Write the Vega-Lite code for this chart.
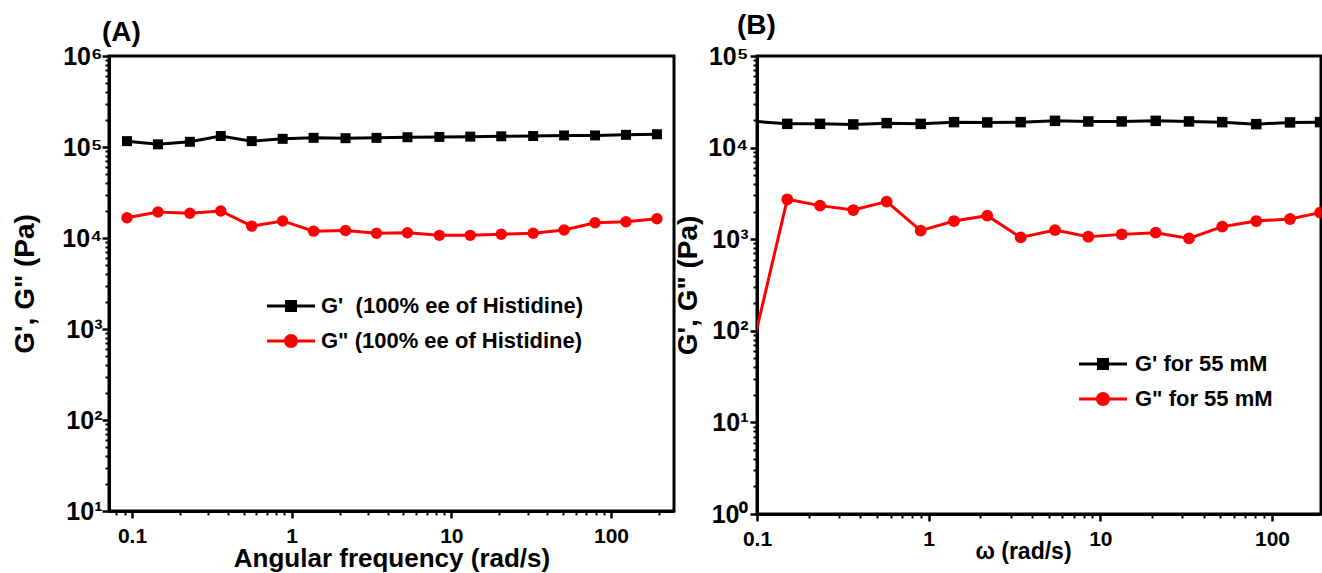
{
  "$schema": "https://vega.github.io/schema/vega-lite/v6.json",
  "background": "white",
  "padding": {"left": 9, "top": 10, "right": 0, "bottom": 0},
  "spacing": 83,
  "bounds": "flush",
  "resolve": {
    "scale": {"color": "independent"},
    "legend": {"color": "independent"}
  },
  "config": {
    "font": "Liberation Sans",
    "view": {"stroke": "black", "strokeWidth": 3},
    "axis": {
      "grid": false,
      "domainColor": "black",
      "domainWidth": 3,
      "tickColor": "black",
      "tickWidth": 2.5,
      "labelColor": "black",
      "labelFont": "Liberation Sans",
      "labelFontWeight": "bold",
      "titleFont": "Liberation Sans",
      "titleFontWeight": "bold",
      "titleColor": "black",
      "labelFlush": false,
      "labelOverlap": false,
      "labelBound": false
    },
    "legend": {
      "labelFont": "Liberation Sans",
      "labelFontSize": 22,
      "labelFontWeight": "bold",
      "labelColor": "black",
      "labelLimit": 500,
      "padding": 0,
      "rowPadding": -9
    }
  },
  "hconcat": [
    {
      "width": 565,
      "height": 455,
      "title": {"text": "(A)", "anchor": "start", "frame": "group", "dx": -7, "offset": -25, "baseline": "alphabetic", "fontSize": 28, "fontWeight": "bold", "font": "Liberation Sans", "color": "black"},
      "data": {"values": [
        {"w": 0.0931, "v": 116000, "s": "G' \u00a0(100% ee of Histidine)"},
        {"w": 0.1454, "v": 107000, "s": "G' \u00a0(100% ee of Histidine)"},
        {"w": 0.2305, "v": 114000, "s": "G' \u00a0(100% ee of Histidine)"},
        {"w": 0.3599, "v": 132000, "s": "G' \u00a0(100% ee of Histidine)"},
        {"w": 0.5623, "v": 116000, "s": "G' \u00a0(100% ee of Histidine)"},
        {"w": 0.8784, "v": 123000, "s": "G' \u00a0(100% ee of Histidine)"},
        {"w": 1.372, "v": 126000, "s": "G' \u00a0(100% ee of Histidine)"},
        {"w": 2.175, "v": 125000, "s": "G' \u00a0(100% ee of Histidine)"},
        {"w": 3.398, "v": 126000, "s": "G' \u00a0(100% ee of Histidine)"},
        {"w": 5.309, "v": 128000, "s": "G' \u00a0(100% ee of Histidine)"},
        {"w": 8.414, "v": 129000, "s": "G' \u00a0(100% ee of Histidine)"},
        {"w": 13.14, "v": 130000, "s": "G' \u00a0(100% ee of Histidine)"},
        {"w": 20.54, "v": 131000, "s": "G' \u00a0(100% ee of Histidine)"},
        {"w": 32.54, "v": 132000, "s": "G' \u00a0(100% ee of Histidine)"},
        {"w": 50.84, "v": 134000, "s": "G' \u00a0(100% ee of Histidine)"},
        {"w": 79.43, "v": 134000, "s": "G' \u00a0(100% ee of Histidine)"},
        {"w": 124.1, "v": 136000, "s": "G' \u00a0(100% ee of Histidine)"},
        {"w": 193.9, "v": 138000, "s": "G' \u00a0(100% ee of Histidine)"},
        {"w": 0.0931, "v": 16700, "s": "G\" (100% ee of Histidine)"},
        {"w": 0.1454, "v": 19300, "s": "G\" (100% ee of Histidine)"},
        {"w": 0.2305, "v": 18700, "s": "G\" (100% ee of Histidine)"},
        {"w": 0.3599, "v": 19800, "s": "G\" (100% ee of Histidine)"},
        {"w": 0.5623, "v": 13500, "s": "G\" (100% ee of Histidine)"},
        {"w": 0.8784, "v": 15400, "s": "G\" (100% ee of Histidine)"},
        {"w": 1.372, "v": 11900, "s": "G\" (100% ee of Histidine)"},
        {"w": 2.175, "v": 12100, "s": "G\" (100% ee of Histidine)"},
        {"w": 3.398, "v": 11270, "s": "G\" (100% ee of Histidine)"},
        {"w": 5.309, "v": 11430, "s": "G\" (100% ee of Histidine)"},
        {"w": 8.414, "v": 10700, "s": "G\" (100% ee of Histidine)"},
        {"w": 13.14, "v": 10700, "s": "G\" (100% ee of Histidine)"},
        {"w": 20.54, "v": 11000, "s": "G\" (100% ee of Histidine)"},
        {"w": 32.54, "v": 11270, "s": "G\" (100% ee of Histidine)"},
        {"w": 50.84, "v": 12240, "s": "G\" (100% ee of Histidine)"},
        {"w": 79.43, "v": 14700, "s": "G\" (100% ee of Histidine)"},
        {"w": 124.1, "v": 15100, "s": "G\" (100% ee of Histidine)"},
        {"w": 193.9, "v": 16300, "s": "G\" (100% ee of Histidine)"}
      ]},
      "layer": [
        {
          "mark": {"type": "line", "strokeWidth": 3, "clip": true},
          "encoding": {
            "x": {"field": "w", "type": "quantitative",
              "scale": {"type": "log", "domain": [0.0718, 248], "nice": false},
              "axis": {"orient": "bottom", "values": [0.1, 1, 10, 100], "format": "~g", "tickSize": 7, "labelPadding": 7, "labelFontSize": 21,
                "title": "Angular frequency (rad/s)", "titleFontSize": 26, "titleY": 55, "titleBaseline": "alphabetic"}},
            "y": {"field": "v", "type": "quantitative",
              "scale": {"type": "log", "domain": [10, 1000000], "nice": false},
              "axis": {"orient": "left", "values": [10, 100, 1000, 10000, 100000, 1000000], "tickSize": 7, "labelPadding": 0, "labelFontSize": 25,
                "labelExpr": "'10' + ['⁰','¹','²','³','⁴','⁵','⁶'][round(log(datum.value)/LN10)]",
                "title": "G', G\" (Pa)", "titleFontSize": 28, "titleX": -76, "titleBaseline": "alphabetic"}},
            "color": {"field": "s", "type": "nominal",
              "scale": {"domain": ["G' \u00a0(100% ee of Histidine)", "G\" (100% ee of Histidine)"], "range": ["black", "red"]},
              "legend": {"orient": "none", "legendX": 158, "legendY": 226, "title": null,
                "padding": 0, "rowPadding": -9, "symbolOffset": 0, "labelOffset": 6,
                "encode": {"symbols": {"update": {
                  "shape": {"signal": "datum.index === 0 ? 'M-1,-0.0625H1V0.0625H-1ZM-0.25,-0.25H0.25V0.25H-0.25Z' : 'M-1,-0.0625H1V0.0625H-1ZM0.29,0A0.29,0.29,0,1,1,-0.29,0A0.29,0.29,0,1,1,0.29,0Z'"},
                  "fill": {"signal": "datum.index === 0 ? 'black' : 'red'"},
                  "stroke": {"value": "transparent"},
                  "strokeWidth": {"value": 0},
                  "size": {"value": 2304},
                  "opacity": {"value": 1}
                }}}}}
          }
        },
        {
          "transform": [{"filter": {"field": "s", "equal": "G' \u00a0(100% ee of Histidine)"}}],
          "mark": {"type": "point", "shape": "square", "size": 100, "filled": true, "color": "black", "opacity": 1, "clip": true},
          "encoding": {
            "x": {"field": "w", "type": "quantitative",
              "axis": {"orient": "bottom", "domain": false, "labels": false, "title": null, "tickSize": 4, "tickWidth": 2,
                "values": [0.08, 0.09, 0.2, 0.3, 0.4, 0.5, 0.6, 0.7, 0.8, 0.9, 2, 3, 4, 5, 6, 7, 8, 9, 20, 30, 40, 50, 60, 70, 80, 90, 200]}},
            "y": {"field": "v", "type": "quantitative",
              "axis": {"orient": "left", "domain": false, "labels": false, "title": null, "tickSize": 4, "tickWidth": 2,
                "values": [20, 30, 40, 50, 60, 70, 80, 90, 200, 300, 400, 500, 600, 700, 800, 900, 2000, 3000, 4000, 5000, 6000, 7000, 8000, 9000, 20000, 30000, 40000, 50000, 60000, 70000, 80000, 90000, 200000, 300000, 400000, 500000, 600000, 700000, 800000, 900000]}}
          }
        },
        {
          "transform": [{"filter": {"field": "s", "equal": "G\" (100% ee of Histidine)"}}],
          "mark": {"type": "point", "shape": "circle", "size": 130, "filled": true, "color": "red", "opacity": 1, "clip": true},
          "encoding": {
            "x": {"field": "w", "type": "quantitative", "axis": null},
            "y": {"field": "v", "type": "quantitative", "axis": null}
          }
        }
      ],
      "resolve": {"axis": {"x": "independent", "y": "independent"}}
    },
    {
      "width": 564,
      "height": 458,
      "title": {"text": "(B)", "anchor": "start", "frame": "group", "dx": -20, "offset": -18, "baseline": "alphabetic", "fontSize": 28, "fontWeight": "bold", "font": "Liberation Sans", "color": "black"},
      "data": {"values": [
        {"w": 0.092, "v": 19500, "s": "G' for 55 mM"},
        {"w": 0.1501, "v": 18160, "s": "G' for 55 mM"},
        {"w": 0.2328, "v": 18160, "s": "G' for 55 mM"},
        {"w": 0.3639, "v": 17900, "s": "G' for 55 mM"},
        {"w": 0.5694, "v": 18500, "s": "G' for 55 mM"},
        {"w": 0.8988, "v": 18160, "s": "G' for 55 mM"},
        {"w": 1.405, "v": 18970, "s": "G' for 55 mM"},
        {"w": 2.195, "v": 18830, "s": "G' for 55 mM"},
        {"w": 3.436, "v": 18970, "s": "G' for 55 mM"},
        {"w": 5.445, "v": 19590, "s": "G' for 55 mM"},
        {"w": 8.51, "v": 19300, "s": "G' for 55 mM"},
        {"w": 13.32, "v": 19300, "s": "G' for 55 mM"},
        {"w": 21.02, "v": 19590, "s": "G' for 55 mM"},
        {"w": 32.85, "v": 19300, "s": "G' for 55 mM"},
        {"w": 51.3, "v": 18970, "s": "G' for 55 mM"},
        {"w": 81.0, "v": 18030, "s": "G' for 55 mM"},
        {"w": 127.4, "v": 18830, "s": "G' for 55 mM"},
        {"w": 190.6, "v": 18970, "s": "G' for 55 mM"},
        {"w": 0.092, "v": 55, "s": "G\" for 55 mM"},
        {"w": 0.1501, "v": 2725, "s": "G\" for 55 mM"},
        {"w": 0.2328, "v": 2326, "s": "G\" for 55 mM"},
        {"w": 0.3639, "v": 2081, "s": "G\" for 55 mM"},
        {"w": 0.5694, "v": 2572, "s": "G\" for 55 mM"},
        {"w": 0.8988, "v": 1239, "s": "G\" for 55 mM"},
        {"w": 1.405, "v": 1578, "s": "G\" for 55 mM"},
        {"w": 2.195, "v": 1807, "s": "G\" for 55 mM"},
        {"w": 3.436, "v": 1046, "s": "G\" for 55 mM"},
        {"w": 5.445, "v": 1258, "s": "G\" for 55 mM"},
        {"w": 8.51, "v": 1065, "s": "G\" for 55 mM"},
        {"w": 13.32, "v": 1129, "s": "G\" for 55 mM"},
        {"w": 21.02, "v": 1178, "s": "G\" for 55 mM"},
        {"w": 32.85, "v": 1020, "s": "G\" for 55 mM"},
        {"w": 51.3, "v": 1370, "s": "G\" for 55 mM"},
        {"w": 81.0, "v": 1578, "s": "G\" for 55 mM"},
        {"w": 127.4, "v": 1660, "s": "G\" for 55 mM"},
        {"w": 190.6, "v": 1950, "s": "G\" for 55 mM"}
      ]},
      "layer": [
        {
          "mark": {"type": "line", "strokeWidth": 3, "clip": true},
          "encoding": {
            "x": {"field": "w", "type": "quantitative",
              "scale": {"type": "log", "domain": [0.1, 193], "nice": false},
              "axis": {"orient": "bottom", "values": [0.1, 1, 10, 100], "format": "~g", "tickSize": 7, "labelPadding": 7, "labelFontSize": 21,
                "title": "ω (rad/s)", "titleFontSize": 23, "titleY": 44, "titleX": 266, "titleBaseline": "alphabetic"}},
            "y": {"field": "v", "type": "quantitative",
              "scale": {"type": "log", "domain": [1, 100000], "nice": false},
              "axis": {"orient": "left", "values": [1, 10, 100, 1000, 10000, 100000], "tickSize": 7, "labelPadding": 2, "labelFontSize": 25,
                "labelExpr": "'10' + ['⁰','¹','²','³','⁴','⁵','⁶'][round(log(datum.value)/LN10)]",
                "title": "G', G\" (Pa)", "titleFontSize": 28, "titleX": -61, "titleBaseline": "alphabetic"}},
            "color": {"field": "s", "type": "nominal",
              "scale": {"domain": ["G' for 55 mM", "G\" for 55 mM"], "range": ["black", "red"]},
              "legend": {"orient": "none", "legendX": 322, "legendY": 284, "title": null,
                "padding": 0, "rowPadding": -9, "symbolOffset": 0, "labelOffset": 8,
                "encode": {"symbols": {"update": {
                  "shape": {"signal": "datum.index === 0 ? 'M-1,-0.0625H1V0.0625H-1ZM-0.25,-0.25H0.25V0.25H-0.25Z' : 'M-1,-0.0625H1V0.0625H-1ZM0.29,0A0.29,0.29,0,1,1,-0.29,0A0.29,0.29,0,1,1,0.29,0Z'"},
                  "fill": {"signal": "datum.index === 0 ? 'black' : 'red'"},
                  "stroke": {"value": "transparent"},
                  "strokeWidth": {"value": 0},
                  "size": {"value": 2304},
                  "opacity": {"value": 1}
                }}}}}
          }
        },
        {
          "transform": [{"filter": {"field": "s", "equal": "G' for 55 mM"}}],
          "mark": {"type": "point", "shape": "square", "size": 110, "filled": true, "color": "black", "opacity": 1, "clip": true},
          "encoding": {
            "x": {"field": "w", "type": "quantitative",
              "axis": {"orient": "bottom", "domain": false, "labels": false, "title": null, "tickSize": 4, "tickWidth": 2,
                "values": [0.2, 0.3, 0.4, 0.5, 0.6, 0.7, 0.8, 0.9, 2, 3, 4, 5, 6, 7, 8, 9, 20, 30, 40, 50, 60, 70, 80, 90]}},
            "y": {"field": "v", "type": "quantitative",
              "axis": {"orient": "left", "domain": false, "labels": false, "title": null, "tickSize": 4, "tickWidth": 2,
                "values": [2, 3, 4, 5, 6, 7, 8, 9, 20, 30, 40, 50, 60, 70, 80, 90, 200, 300, 400, 500, 600, 700, 800, 900, 2000, 3000, 4000, 5000, 6000, 7000, 8000, 9000, 20000, 30000, 40000, 50000, 60000, 70000, 80000, 90000]}}
          }
        },
        {
          "transform": [{"filter": {"field": "s", "equal": "G\" for 55 mM"}}],
          "mark": {"type": "point", "shape": "circle", "size": 140, "filled": true, "color": "red", "opacity": 1, "clip": true},
          "encoding": {
            "x": {"field": "w", "type": "quantitative", "axis": null},
            "y": {"field": "v", "type": "quantitative", "axis": null}
          }
        }
      ],
      "resolve": {"axis": {"x": "independent", "y": "independent"}}
    }
  ]
}
